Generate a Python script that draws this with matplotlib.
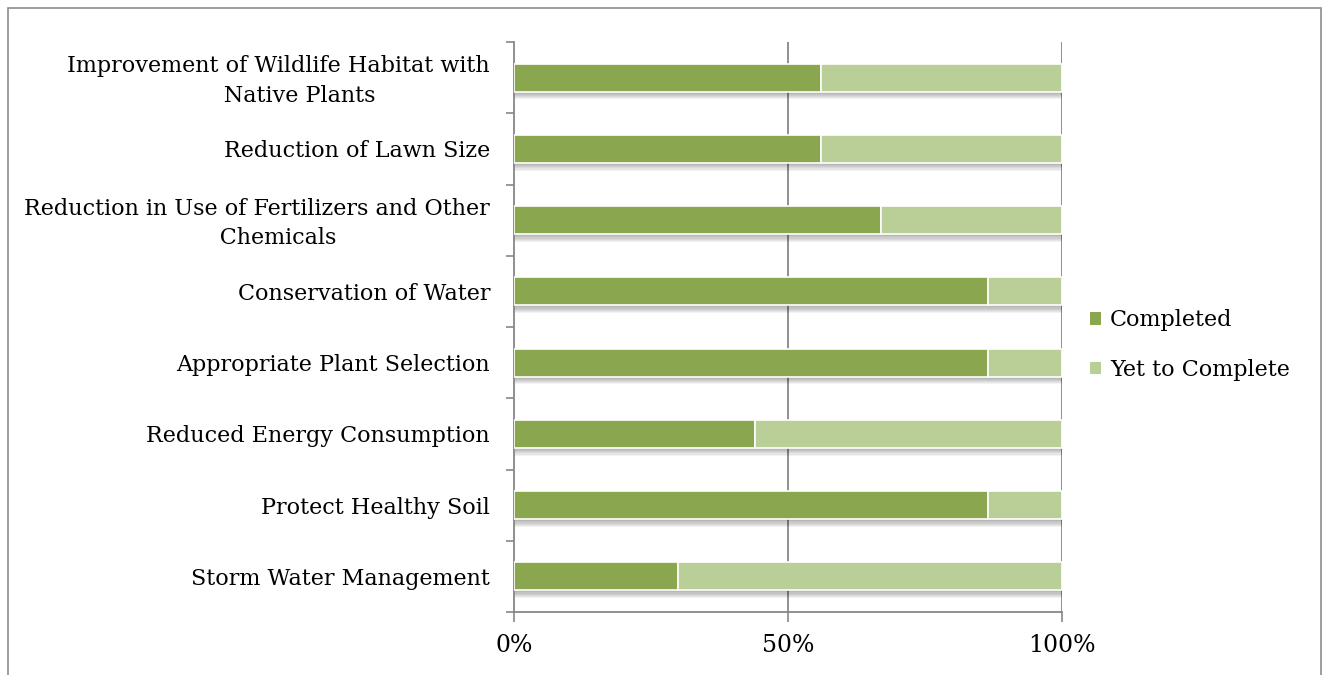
import matplotlib
matplotlib.use("Agg")
import matplotlib.pyplot as plt
import matplotlib.transforms as mtransforms
from matplotlib.patches import Rectangle, Patch
import numpy as np

categories = [
    "Improvement of Wildlife Habitat with\n      Native Plants",
    "Reduction of Lawn Size",
    "Reduction in Use of Fertilizers and Other\n      Chemicals",
    "Conservation of Water",
    "Appropriate Plant Selection",
    "Reduced Energy Consumption",
    "Protect Healthy Soil",
    "Storm Water Management",
]
completed = [0.56, 0.56, 0.67, 0.865, 0.865, 0.44, 0.865, 0.30]
yet_to_complete = [1 - c for c in completed]
series_names = ["Completed", "Yet to Complete"]
xtick_labels = ["0%", "50%", "100%"]

c_dark = "#8aa64f"
c_light = "#bacf97"
grid_c = "#878787"

plt.rcParams['font.family'] = ['DejaVu Serif']

W, H = 1324, 675
fig = plt.figure(figsize=(W / 100, H / 100), dpi=100)
ax = fig.add_axes([514 / W, 1 - 612 / H, (1062 - 514) / W, (612 - 42) / H])

n = len(categories)
y = np.arange(n)[::-1]
bh = 0.39
fs = 16

# soft shadows under bars
for k in range(7):
    off = 0.015 + k * 0.016
    ax.barh(y - off, [1.0] * n, height=bh, color="#000000", alpha=0.05,
            zorder=1, linewidth=0)

ax.barh(y, completed, height=bh, color=c_dark, edgecolor="white",
        linewidth=1.2, zorder=3, label=series_names[0])
ax.barh(y, yet_to_complete, left=completed, height=bh, color=c_light,
        edgecolor="white", linewidth=1.2, zorder=3, label=series_names[1])

ax.set_xlim(0, 1.0)
ax.set_ylim(-0.5, n - 0.5)

for xv in [0.5, 1.0]:
    ax.axvline(xv, color=grid_c, linewidth=1.3, zorder=0)

ax.set_xticks([0, 0.5, 1.0])
ax.set_xticklabels(xtick_labels, fontsize=fs + 1)
ax.set_yticks(y)
ax.set_yticklabels([])

# category labels drawn as text, right-aligned 24px left of the axis
base = mtransforms.blended_transform_factory(ax.transAxes, ax.transData)
for yi, lab in zip(y, categories):
    if "\n" in lab:
        tr = base + mtransforms.ScaledTranslation(0, -3.5 / 100, fig.dpi_scale_trans)
        ax.text(-24 / 548, yi, lab, transform=tr, ha='right', va='center',
                fontsize=fs, linespacing=1.45, multialignment='center')
    else:
        ax.text(-24 / 548, yi, lab, transform=base, ha='right',
                va='center_baseline', fontsize=fs)

ax.set_yticks(np.arange(n + 1) - 0.5, minor=True)
ax.tick_params(axis='y', which='major', length=0)
ax.tick_params(axis='y', which='minor', length=6, width=1.2, color=grid_c, direction='out')
ax.tick_params(axis='x', length=7, width=1.2, color=grid_c, direction='out', pad=9)

for s in ['top', 'right']:
    ax.spines[s].set_visible(False)
for s in ['left', 'bottom']:
    ax.spines[s].set_color(grid_c)
    ax.spines[s].set_linewidth(1.3)

handles = [Patch(facecolor=c_dark, edgecolor='none'),
           Patch(facecolor=c_light, edgecolor='none')]
fig.legend(handles, series_names, loc='center left',
           bbox_to_anchor=(1070 / W, 1 - 345 / H), frameon=False,
           fontsize=fs, handlelength=0.5, handleheight=0.5,
           handletextpad=0.4, labelspacing=1.25)

fig.patches.append(Rectangle((8 / W, -0.1), (1321 - 8) / W, 1.1 - 8 / H,
                             transform=fig.transFigure, fill=False,
                             edgecolor="#8c8c8c", linewidth=1.2))

fig.savefig("out.png", dpi=100)
